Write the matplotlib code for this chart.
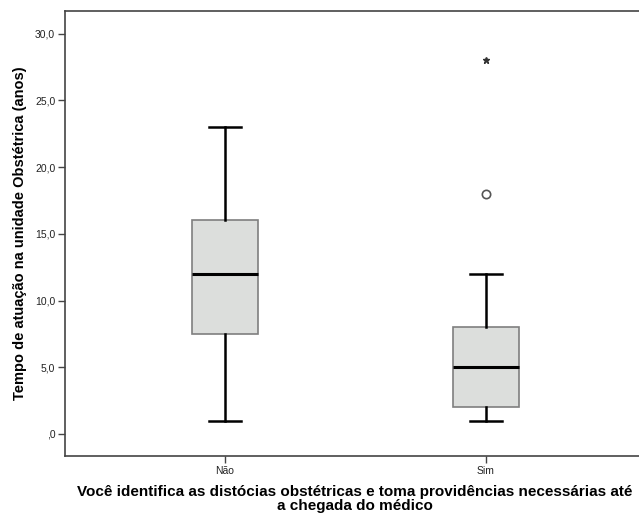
import matplotlib.pyplot as plt

plt.rcParams['font.family'] = ['Liberation Sans', 'DejaVu Sans']

# dados
grupos = ['Não', 'Sim']
minimo = [1.0, 1.0]
q1 = [7.5, 2.0]
mediana = [12.0, 5.0]
q3 = [16.0, 8.0]
maximo = [23.0, 12.0]
outliers = [[], [18.0]]
extremos = [[], [28.0]]

y_ticks = [0, 5, 10, 15, 20, 25, 30]
y_labels = [',0', '5,0', '10,0', '15,0', '20,0', '25,0', '30,0']

W, H = 639, 517
fig = plt.figure(figsize=(W / 100, H / 100), dpi=100)
ax = fig.add_axes([65 / W, 1 - 456 / H, (646 - 65) / W, (456 - 11) / H])

stats = []
for i in range(len(grupos)):
    stats.append(dict(whislo=minimo[i], q1=q1[i], med=mediana[i], q3=q3[i],
                      whishi=maximo[i], fliers=outliers[i], label=grupos[i]))

pos = list(range(1, len(grupos) + 1))
ax.bxp(stats, positions=pos, widths=0.25, patch_artist=True, manage_ticks=False,
       boxprops=dict(facecolor='#dcdedc', edgecolor='#7f7f7f', linewidth=1.2),
       medianprops=dict(color='black', linewidth=2.2),
       whiskerprops=dict(color='black', linewidth=1.8),
       capprops=dict(color='black', linewidth=1.8),
       capwidths=0.125,
       flierprops=dict(marker='o', markerfacecolor='white', markeredgecolor='#555555',
                       markersize=6, markeredgewidth=1.2))

for p, e in zip(pos, extremos):
    if e:
        ax.plot([p] * len(e), e, linestyle='none', marker='*', color='#333333', markersize=5)

ax.set_xlim(0.387, 2.613)
ax.set_ylim(-1.65, 31.7)
ax.set_xticks(pos)
ax.set_xticklabels(grupos, fontsize=7.5, color='#222222')
ax.set_yticks(y_ticks)
ax.set_yticklabels(y_labels, fontsize=7.5, color='#222222')
ax.tick_params(direction='out', length=5, width=1, color='#444444', pad=2)
for s in ax.spines.values():
    s.set_color('#444444')
    s.set_linewidth(1.2)

ax.set_ylabel('Tempo de atuação na unidade Obstétrica (anos)', fontsize=10.5,
              fontweight='bold', labelpad=6)
fig.text(355 / W, 1 - 485 / H,
         'Você identifica as distócias obstétricas e toma providências necessárias até\n'
         'a chegada do médico', fontsize=11, fontweight='bold', ha='center', va='top',
         linespacing=1.0)

fig.savefig('out.png', dpi=100)
